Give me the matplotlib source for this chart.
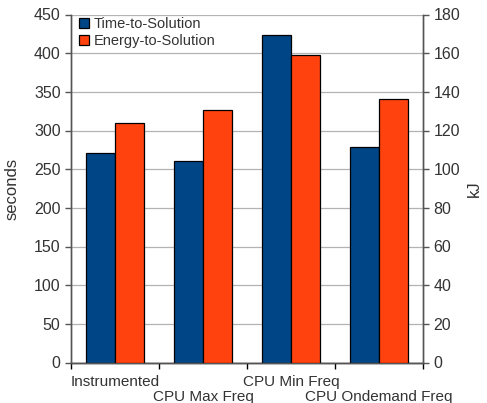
import matplotlib.pyplot as plt
import numpy as np

plt.rcParams['font.family'] = ['Liberation Sans', 'DejaVu Sans']

# Benchmark configurations and measurements
categories = ['Instrumented', 'CPU Max Freq', 'CPU Min Freq', 'CPU Ondemand Freq']
time_s = [271, 260, 424, 279]           # Time-to-Solution, seconds
energy_kj = [124, 130.5, 159, 136.4]    # Energy-to-Solution, kJ

blue = '#004586'
orange = '#ff420e'
txt = '#333333'

fig = plt.figure(figsize=(4.87, 4.03), dpi=100)
ax = fig.add_axes([71 / 487, 1 - 362.5 / 403, 352 / 487, 348 / 403])
ax2 = ax.twinx()

x = np.arange(len(categories))
w = 0.33
b1 = ax.bar(x - w, time_s, w, align='edge', color=blue, edgecolor='black',
            linewidth=0.9, label='Time-to-Solution', zorder=3)
b2 = ax2.bar(x, energy_kj, w, align='edge', color=orange, edgecolor='black',
             linewidth=0.9, label='Energy-to-Solution', zorder=3)

ax.set_xlim(-0.5, len(categories) - 0.5)
ax.set_ylim(0, 450)
ax2.set_ylim(0, 180)
ax.set_yticks(range(0, 451, 50))
ax2.set_yticks(range(0, 181, 20))
ax.grid(axis='y', color='#b3b3b3', linewidth=0.9, zorder=0)
ax.set_axisbelow(True)

# category ticks at group boundaries, labels staggered in two rows
ax.set_xticks(np.arange(-0.5, len(categories), 1.0))
ax.set_xticklabels([])
for i, name in enumerate(categories):
    ax.text(i, -0.035 if i % 2 == 0 else -0.08, name, ha='center', va='top',
            fontsize=11, color=txt, transform=ax.get_xaxis_transform())

for a in (ax, ax2):
    a.spines['top'].set_visible(False)
    a.tick_params(colors='#555555', labelcolor=txt, labelsize=11.5,
                  length=4, width=1)
    for s in ('left', 'right', 'bottom'):
        a.spines[s].set_color('#555555')
        a.spines[s].set_linewidth(1)
ax.spines['bottom'].set_color('black')
ax.tick_params(axis='x', colors='black')

ax.set_ylabel('seconds', fontsize=12, color=txt, labelpad=10)
ax2.set_ylabel('kJ', fontsize=12, color=txt, labelpad=5)

ax.legend([b1, b2], ['Time-to-Solution', 'Energy-to-Solution'], loc='upper left',
          frameon=False, fontsize=10.5, handlelength=0.7, handleheight=0.7,
          handletextpad=0.35, borderaxespad=0.0, labelspacing=0.2,
          bbox_to_anchor=(0.005, 1.01), labelcolor=txt)

fig.savefig('out.png', dpi=100)
